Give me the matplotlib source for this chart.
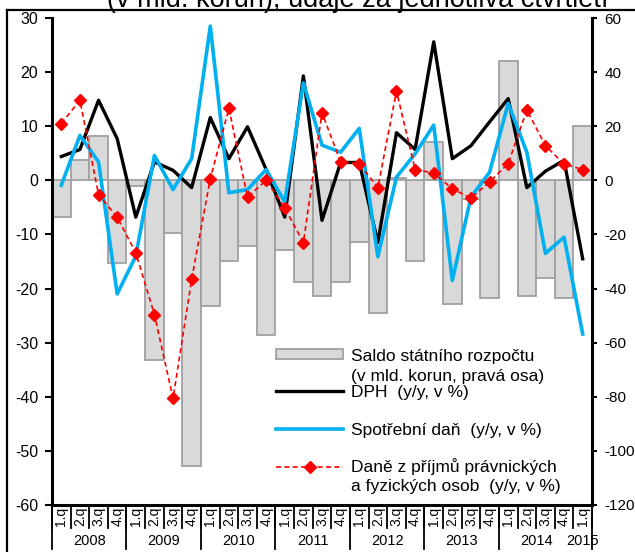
import matplotlib
matplotlib.use("Agg")
import matplotlib.pyplot as plt
import numpy as np
from matplotlib.lines import Line2D
from matplotlib.patches import Rectangle

plt.rcParams['font.family'] = ['Liberation Sans', 'DejaVu Sans']
plt.rcParams['axes.unicode_minus'] = False

# ---------------- data ----------------
years = ["2008", "2009", "2010", "2011", "2012", "2013", "2014", "2015"]
quarters = ["1.q", "2.q", "3.q", "4.q"] * 7 + ["1.q"]

# Saldo státního rozpočtu (mld. Kč, right axis)
saldo = [-13.6, 7.7, 16.3, -30.6, -2.1, -66.4, -19.5, -105.6,
         -46.3, -30.0, -24.3, -57.0, -25.7, -37.6, -42.6, -37.6,
         -22.8, -49.1, 0.9, -30.0, 14.2, -45.7, -6.8, -43.5,
         44.0, -42.8, -36.2, -43.5, 20.0]
# DPH (y/y, %)
dph = [4.4, 5.7, 14.8, 7.7, -6.8, 3.4, 1.85, -1.35,
       11.6, 4.0, 9.9, 2.0, -6.8, 19.3, -7.4, 3.3,
       3.3, -11.5, 8.8, 5.7, 25.6, 4.0, 6.4, 10.8,
       15.1, -1.35, 1.7, 3.7, -14.5]
# Spotřební daň (y/y, %)
spd = [-0.9, 8.3, 3.4, -21.0, -14.0, 4.6, -1.7, 4.0,
       28.5, -2.3, -1.7, 2.0, -4.0, 18.0, 6.5, 5.2,
       9.6, -14.1, 0.6, 4.9, 10.2, -18.5, -3.1, 1.5,
       14.2, 5.2, -13.5, -10.5, -28.4]
# Daně z příjmů právnických a fyzických osob (y/y, %)
dpo = [10.5, 14.8, -2.65, -6.8, -13.4, -24.8, -40.3, -18.3,
       0.3, 13.3, -3.1, 0.0, -5.1, -11.5, 12.5, 3.4,
       3.1, -1.35, 16.5, 2.0, 1.35, -1.55, -3.3, -0.3,
       3.1, 13.0, 6.4, 3.0, 2.0]

title_text = "(v mld. korun), údaje za jednotlivá čtvrtletí"
leg_saldo = ["Saldo státního rozpočtu", "(v mld. korun, pravá osa)"]
leg_dph = "DPH  (y/y, v %)"
leg_spd = "Spotřební daň  (y/y, v %)"
leg_dpo = ["Daně z příjmů právnických", "a fyzických osob  (y/y, v %)"]

# ---------------- styles ----------------
BAR_FC = '#D9D9D9'
BAR_EC = '#A0A0A0'
BLUE = '#00B0F0'
RED = '#FF0000'

W, H = 635, 552
fig = plt.figure(figsize=(W / 100, H / 100), dpi=100)


def fx(px):
    return px / W


def fy(py):
    return 1 - py / H


L, R, T, B = 52, 592, 18, 505
ax = fig.add_axes([fx(L), fy(B), (R - L) / W, (B - T) / H])
ax2 = ax.twinx()
ax.set_zorder(2)
ax2.set_zorder(1)
ax.patch.set_visible(False)

x = np.arange(len(quarters))
ax2.bar(x, saldo, width=1.0, color=BAR_FC, edgecolor=BAR_EC, linewidth=1.3)
ax.plot(x, dph, color='black', lw=2.4)
ax.plot(x, spd, color=BLUE, lw=2.6)
ax.plot(x, dpo, color=RED, lw=1.2, linestyle=(0, (3, 2)), marker='D',
        markersize=6.5, markerfacecolor=RED, markeredgecolor=RED)

ax.set_xlim(-0.5, len(quarters) - 0.5)
ax.set_ylim(-60, 30)
ax.set_yticks(range(-60, 31, 10))
ax2.set_ylim(-120, 60)
ax2.set_yticks(range(-120, 61, 20))
ax.set_xticks([])
ax2.set_xticks([])

ax.tick_params(axis='y', direction='out', length=5, width=1.5, pad=5,
               labelsize=11.5)
ax2.tick_params(axis='y', direction='out', length=3.5, width=1.5, pad=5.5,
                labelsize=11)

for s in ['top', 'right']:
    ax.spines[s].set_visible(False)
for s in ['top', 'left', 'bottom']:
    ax2.spines[s].set_visible(False)
ax.spines['left'].set_linewidth(2.2)
ax.spines['bottom'].set_linewidth(2.2)
ax2.spines['right'].set_linewidth(2.2)

# ---------------- multi-level category axis ----------------
trans = ax.get_xaxis_transform()
axh = B - T
n = len(quarters)
for b in range(n + 1):
    ax.plot([b - 0.5, b - 0.5], [0, -23 / axh], transform=trans,
            clip_on=False, color='black', lw=1.3)
for i, q in enumerate(quarters):
    ax.text(i, -2 / axh, q, rotation=90, ha='center', va='top',
            transform=trans, fontsize=10)

start = 0
year_bounds = [0]
for yr in years:
    cnt = 4 if yr != years[-1] else n - start
    ax.text(start + (cnt - 1) / 2, -36 / axh, yr, ha='center', va='center',
            transform=trans, fontsize=10.5)
    start += cnt
    year_bounds.append(start)
for b in year_bounds[:-2] + [year_bounds[-1]]:
    ax.plot([b - 0.5, b - 0.5], [0, -44 / axh], transform=trans,
            clip_on=False, color='black', lw=1.3)

# ---------------- frame & cut-off title ----------------
fig.add_artist(Line2D([fx(7), fx(7)], [fy(10), fy(H + 10)],
                      transform=fig.transFigure, color='black', lw=1.6))
fig.add_artist(Line2D([fx(7), fx(W + 10)], [fy(10), fy(10)],
                      transform=fig.transFigure, color='black', lw=1.6))
fig.text(fx(107), fy(7.3), title_text, fontsize=19.5, ha='left',
         va='baseline')

# ---------------- legend (manual, Excel-like) ----------------
hx0, hx1, tx = 276, 343, 351
LFS = 12.5
fig.add_artist(Rectangle((fx(hx0), fy(359)), fx(hx1) - fx(hx0), 10 / H,
                         transform=fig.transFigure, facecolor=BAR_FC,
                         edgecolor=BAR_EC, lw=1.3, zorder=5))
fig.text(fx(tx), fy(356), leg_saldo[0], fontsize=LFS, va='center', zorder=5)
fig.text(fx(tx), fy(376), leg_saldo[1], fontsize=LFS, va='center', zorder=5)

fig.add_artist(Line2D([fx(hx0), fx(hx1)], [fy(391), fy(391)],
                      transform=fig.transFigure, color='black', lw=2.4,
                      zorder=5))
fig.text(fx(tx), fy(393), leg_dph, fontsize=LFS, va='center', zorder=5)

fig.add_artist(Line2D([fx(hx0), fx(hx1)], [fy(429), fy(429)],
                      transform=fig.transFigure, color=BLUE, lw=2.6,
                      zorder=5))
fig.text(fx(tx), fy(430), leg_spd, fontsize=LFS, va='center', zorder=5)

fig.add_artist(Line2D([fx(hx0), fx(hx1)], [fy(467), fy(467)],
                      transform=fig.transFigure, color=RED, lw=1.2,
                      linestyle=(0, (3, 2)), zorder=5))
fig.add_artist(Line2D([fx((hx0 + hx1) / 2)], [fy(467)],
                      transform=fig.transFigure, color=RED, marker='D',
                      markersize=6.5, linestyle='none', zorder=6))
fig.text(fx(tx), fy(467), leg_dpo[0], fontsize=LFS, va='center', zorder=5)
fig.text(fx(tx), fy(487), leg_dpo[1], fontsize=LFS, va='center', zorder=5)

fig.savefig("out.png", dpi=100)
